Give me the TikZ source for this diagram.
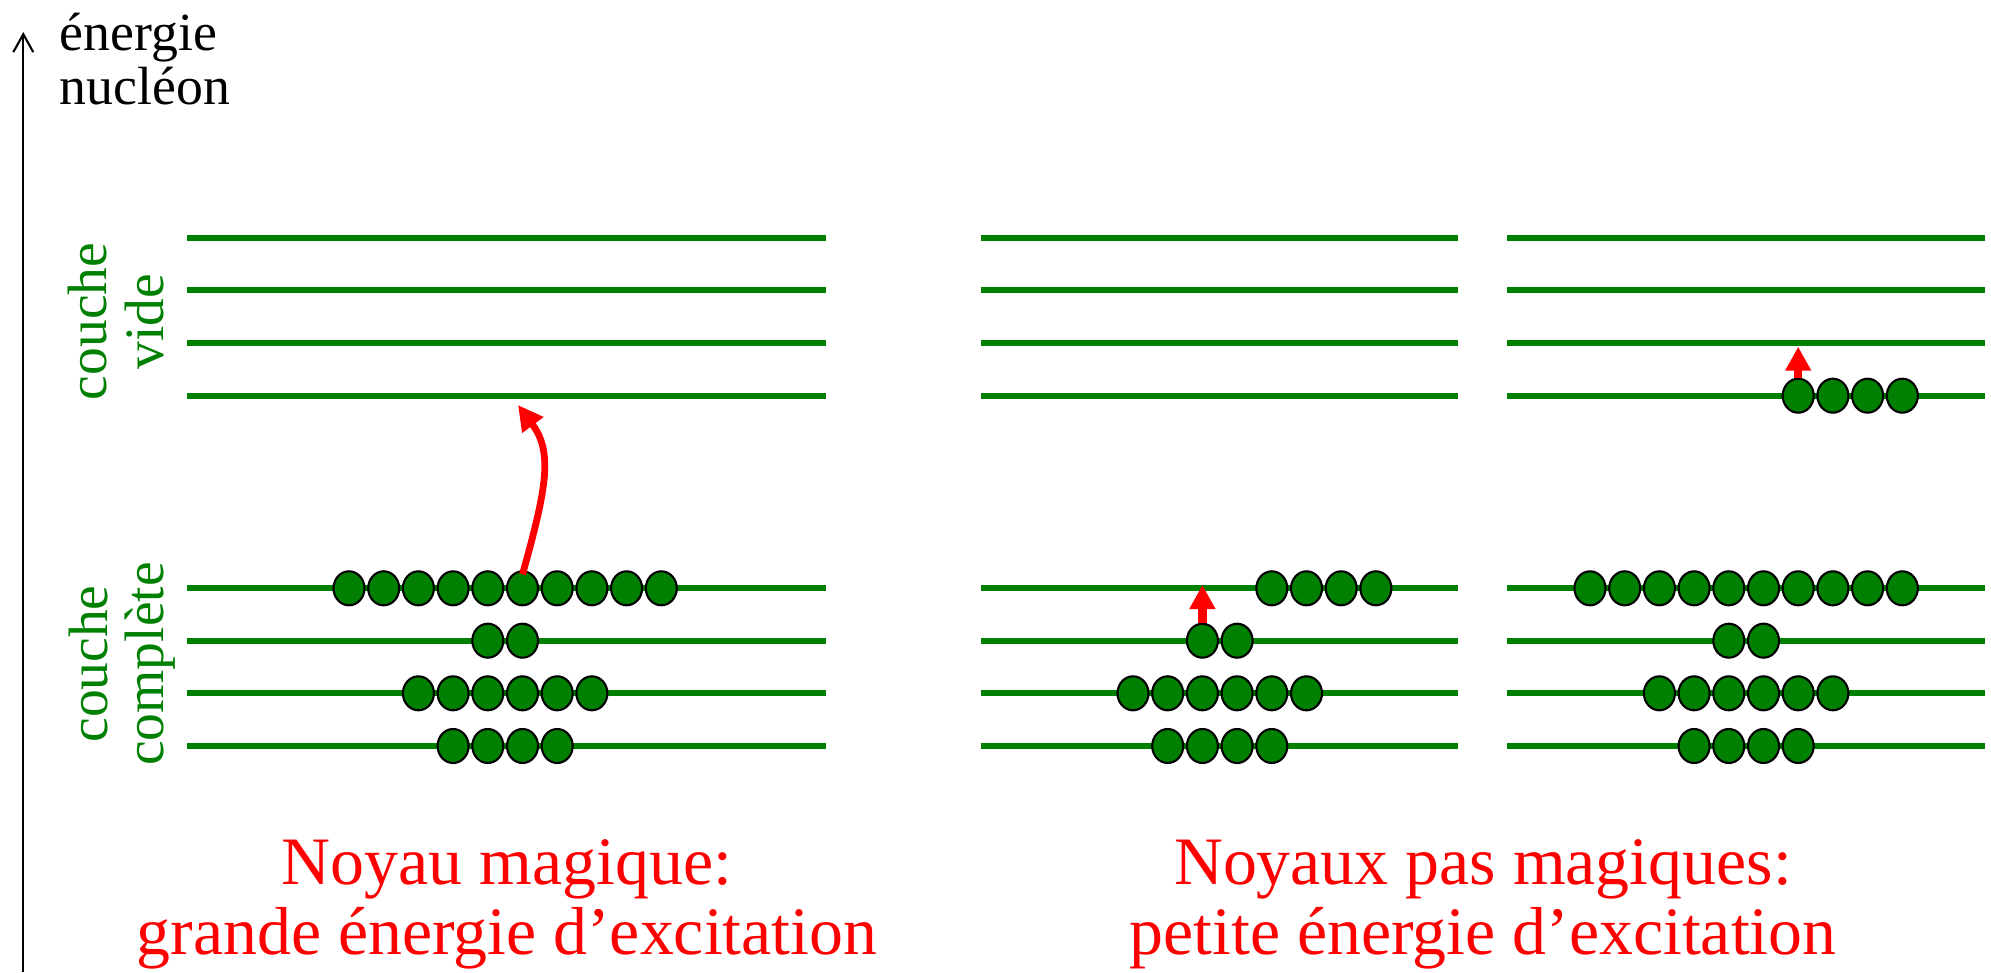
\documentclass[tikz,border=0pt]{standalone}
\usepackage{fontspec}
\setmainfont{Liberation Serif}
\usepackage{xcolor}
\usetikzlibrary{arrows.meta,shapes.geometric}
\definecolor{vert}{RGB}{0,128,0}

\begin{document}
\begin{tikzpicture}[
  niveau/.style={vert, line width=0.06cm},
  nucleon/.style={ellipse, draw=black, fill=vert, line width=0.6pt,
    minimum width=0.31cm, minimum height=0.34cm, inner sep=0pt},
  saut/.style={red, line width=0.085cm, -{Triangle[length=0.24cm,width=0.245cm]}},
  couche/.style={vert, rotate=90, align=center, inner sep=0pt,
    font=\fontsize{15.8pt}{16.1pt}\selectfont},
  titre/.style={red, align=center, inner sep=0pt,
    font=\fontsize{19.3pt}{19.9pt}\selectfont}]
\useasboundingbox (0,0) rectangle (19.91,9.72);

% axe
\coordinate (bas) at (0.233,0);
\coordinate (haut) at (0.233,9.40);
\draw[line width=0.6pt,-{Straight Barb[length=0.18cm,width=0.2cm]}] (bas) -- (haut);
\node[anchor=north west, inner sep=0pt, align=left,
  font=\fontsize{15.3pt}{15.4pt}\selectfont] (energie) at (0.59,9.60) {énergie\\nucléon};

% niveaux
\foreach \y in {7.343,6.817,6.29,5.763,3.837,3.313,2.787,2.26} {
  \draw[niveau] (1.873,\y) -- (8.255,\y);
  \draw[niveau] (9.81,\y) -- (14.578,\y);
  \draw[niveau] (15.07,\y) -- (19.85,\y);
}

\node[couche] (vide) at (1.16,6.505) {couche\\vide};
\node[couche] (complete) at (1.22,3.08) {couche\\complète};

% noyau magique
\foreach \n in {0,...,9} \node[nucleon] (g1-\n) at ({3.49+0.347*\n},3.837) {};
\foreach \n in {4,5} \node[nucleon] (g2-\n) at ({3.49+0.347*\n},3.313) {};
\foreach \n in {2,...,7} \node[nucleon] (g3-\n) at ({3.49+0.347*\n},2.787) {};
\foreach \n in {3,...,6} \node[nucleon] (g4-\n) at ({3.49+0.347*\n},2.26) {};

% noyaux pas magiques
\foreach \n in {4,...,7} \node[nucleon] (m1-\n) at ({11.33+0.347*\n},3.837) {};
\foreach \n in {2,3} \node[nucleon] (m2-\n) at ({11.33+0.347*\n},3.313) {};
\foreach \n in {0,...,5} \node[nucleon] (m3-\n) at ({11.33+0.347*\n},2.787) {};
\foreach \n in {1,...,4} \node[nucleon] (m4-\n) at ({11.33+0.347*\n},2.26) {};

\foreach \n in {6,...,9} \node[nucleon] (r0-\n) at ({15.90+0.347*\n},5.763) {};
\foreach \n in {0,...,9} \node[nucleon] (r1-\n) at ({15.90+0.347*\n},3.837) {};
\foreach \n in {4,5} \node[nucleon] (r2-\n) at ({15.90+0.347*\n},3.313) {};
\foreach \n in {2,...,7} \node[nucleon] (r3-\n) at ({15.90+0.347*\n},2.787) {};
\foreach \n in {3,...,6} \node[nucleon] (r4-\n) at ({15.90+0.347*\n},2.26) {};

% excitations
\coordinate (cible1) at (5.18,5.67);
\coordinate (cible2) at (12.024,3.87);
\coordinate (cible3) at (17.982,6.253);
\draw[saut, line width=0.068cm, -{Triangle[length=0.25cm,width=0.25cm]}]
  ([yshift=-0.04cm]g1-5.north) .. controls (5.47,4.85) and (5.53,5.2) .. (cible1);
\draw[saut] (m2-2.north) -- (cible2);
\draw[saut] (r0-6.north) -- (cible3);

\node[titre] (magique) at (5.07,0.678) {Noyau magique:\\grande énergie d’excitation};
\node[titre] (pasmagique) at (14.83,0.678) {Noyaux pas magiques:\\petite énergie d’excitation};
\end{tikzpicture}
\end{document}
